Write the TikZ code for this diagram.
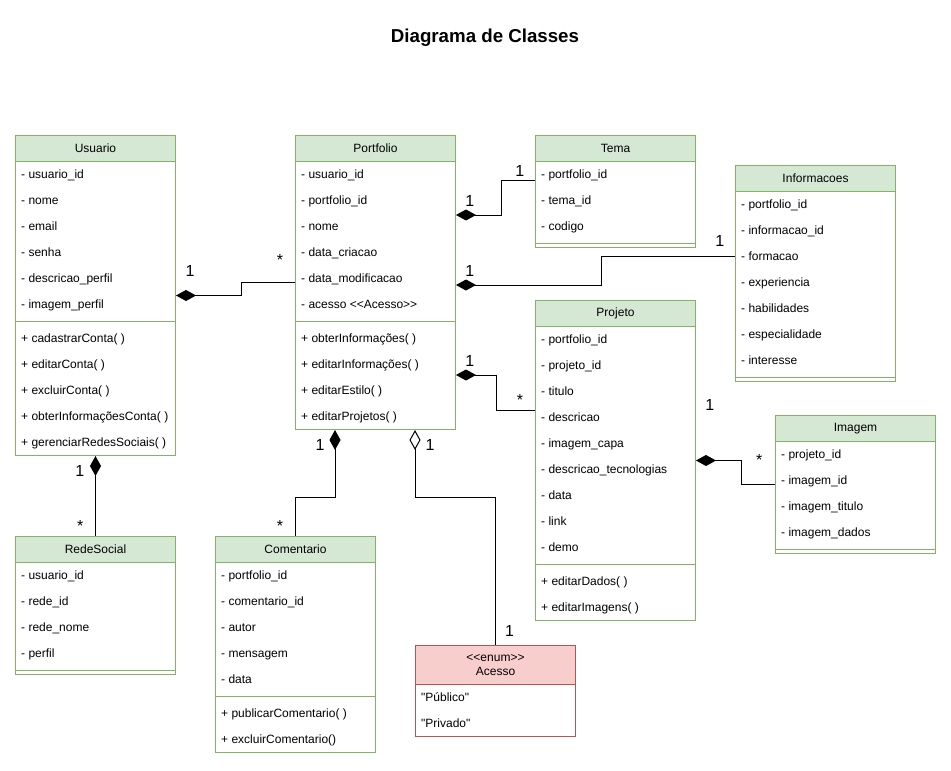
\documentclass[tikz,border=0pt]{standalone}
\usepackage{fontspec}
\setmainfont{Liberation Sans}[Ligatures=TeXOff]
\usetikzlibrary{arrows.meta,calc}
\definecolor{gfill}{HTML}{D5E8D4}
\definecolor{gline}{HTML}{82B366}
\definecolor{rfill}{HTML}{F8CECC}
\definecolor{rline}{HTML}{B85450}
\tikzset{
  clsbody/.style={draw=gline, line width=1pt, fill=white, inner sep=0pt, anchor=north west},
  clshead/.style={draw=gline, line width=1pt, fill=gfill, inner sep=0pt, anchor=north west, minimum height=26pt, font=\fontsize{12}{14}\selectfont},
  entry/.style={anchor=base west, inner sep=0pt, font=\fontsize{12}{14}\selectfont},
  sepline/.style={draw=gline, line width=1pt},
  conn/.style={draw=black, line width=1pt},
  comp/.style={conn, {Diamond[length=20pt,width=11pt,fill=black]}-},
  aggr/.style={conn, {Diamond[open,length=20pt,width=11pt,fill=white]}-},
  mult/.style={anchor=base, inner sep=0pt, font=\fontsize{16}{18}\selectfont},
}
% #1 name #2 x #3 y #4 title #5 nattr #6 nmeth #7 attrs #8 methods
\newcommand\umlclass[8]{%
  \pgfmathsetmacro\clsH{26+26*#5+8+26*#6}
  \node[clsbody, minimum width=160pt, minimum height=\clsH pt] (#1) at (#2,#3) {};
  \node[clshead, minimum width=160pt] (#1-head) at (#2,#3) {#4};
  \foreach \t [count=\i] in {#7} {\node[entry] at ($(#1.north west)+(6,26*\i+17.3)$) {\t};}
  \draw[sepline] ($(#1.north west)+(0,26+26*#5+4)$) -- ++(160,0);
  \ifnum#6>0
    \foreach \t [count=\j] in {#8} {\node[entry] at ($(#1.north west)+(6,26*#5+26*\j+25.3)$) {\t};}
  \fi
}
\begin{document}
\begin{tikzpicture}[x=1pt,y=-1pt]
\useasboundingbox (0,0) rectangle (951,771);
\fill[white] (0,0) rectangle (951,771);

\node[anchor=base, inner sep=0pt, font=\bfseries\fontsize{18.7}{22}\selectfont] (title) at (485,42.5) {Diagrama de Classes};

\umlclass{usuario}{15}{135}{Usuario}{6}{5}%
  {- usuario\_id,- nome,- email,- senha,- descricao\_perfil,- imagem\_perfil}%
  {+ cadastrarConta( ),+ editarConta( ),+ excluirConta( ),+ obterInformaçõesConta( ),+ gerenciarRedesSociais( )}
\umlclass{portfolio}{295}{135}{Portfolio}{6}{4}%
  {- usuario\_id,- portfolio\_id,- nome,- data\_criacao,- data\_modificacao,- acesso <\kern0pt<Acesso>\kern0pt>}%
  {+ obterInformações( ),+ editarInformações( ),+ editarEstilo( ),+ editarProjetos( )}
\umlclass{tema}{535}{135}{Tema}{3}{0}%
  {- portfolio\_id,- tema\_id,- codigo}{}
\umlclass{informacoes}{735}{165}{Informacoes}{7}{0}%
  {- portfolio\_id,- informacao\_id,- formacao,- experiencia,- habilidades,- especialidade,- interesse}{}
\umlclass{projeto}{535}{300}{Projeto}{9}{2}%
  {- portfolio\_id,- projeto\_id,- titulo,- descricao,- imagem\_capa,- descricao\_tecnologias,- data,- link,- demo}%
  {+ editarDados( ),+ editarImagens( )}
\umlclass{imagem}{775}{415}{Imagem}{4}{0}%
  {- projeto\_id,- imagem\_id,- imagem\_titulo,- imagem\_dados}{}
\umlclass{redesocial}{15}{536}{RedeSocial}{4}{0}%
  {- usuario\_id,- rede\_id,- rede\_nome,- perfil}{}
\umlclass{comentario}{215}{536}{Comentario}{5}{2}%
  {- portfolio\_id,- comentario\_id,- autor,- mensagem,- data}%
  {+ publicarComentario( ),+ excluirComentario()}

% enum Acesso
\node[draw=rline, fill=white, line width=1pt, minimum width=160pt, minimum height=91pt, anchor=north west, inner sep=0pt] (acesso) at (415,645) {};
\node[draw=rline, fill=rfill, line width=1pt, minimum width=160pt, minimum height=39pt, anchor=north west, inner sep=0pt, align=center, font=\fontsize{12}{14}\selectfont] (acesso-head) at (415,645) {<\kern0pt<enum>\kern0pt>\\Acesso};
\node[entry] (acesso-a) at (421,701.3) {"Público"};
\node[entry] (acesso-b) at (421,727.3) {"Privado"};

% connectors
\draw[comp] (usuario.east) -- ++(65,0) |- (portfolio.west);
\draw[comp] ([yshift=-80pt]portfolio.north east) -- ++(45,0) |- ([yshift=-45pt]tema.north west);
\draw[comp] ([yshift=-150pt]portfolio.north east) -- ++(145,0) |- ([yshift=-91pt]informacoes.north west);
\draw[comp] ([yshift=-240pt]portfolio.north east) -- ++(40,0) |- ([yshift=-110pt]projeto.north west);
\draw[comp] (projeto.east) -- ++(45,0) |- (imagem.west);
\draw[comp] (usuario.south) -- (redesocial.north);
\draw[comp] ([xshift=40pt]portfolio.south west) -- ++(0,67) -| (comentario.north);
\draw[aggr] ([xshift=120pt]portfolio.south west) -- ++(0,67) -| (acesso.north);

% multiplicities
\node[mult] (m1) at (190,276) {1};
\node[mult] (m2) at (280,265) {*};
\node[mult] (m3) at (469.7,206) {1};
\node[mult] (m4) at (519.7,176) {1};
\node[mult] (m5) at (469.7,276) {1};
\node[mult] (m6) at (719.7,246) {1};
\node[mult] (m7) at (469.7,366) {1};
\node[mult] (m8) at (520,405) {*};
\node[mult] (m9) at (709.7,410) {1};
\node[mult] (m10) at (759.3,465) {*};
\node[mult] (m11) at (79.8,476.5) {1};
\node[mult] (m12) at (80.3,531) {*};
\node[mult] (m13) at (320,450) {1};
\node[mult] (m14) at (280,531) {*};
\node[mult] (m15) at (430,450) {1};
\node[mult] (m16) at (509.6,636) {1};
\end{tikzpicture}
\end{document}
